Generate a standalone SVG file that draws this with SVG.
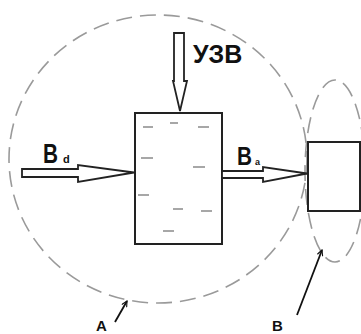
<svg xmlns="http://www.w3.org/2000/svg" width="361" height="334" viewBox="0 0 361 334">
  <style>
    .boundary { fill: none; stroke: #9a9a9a; stroke-width: 1.6; stroke-dasharray: 16 8; }
    .body { fill: #fff; stroke: #222; stroke-width: 2; }
    .flow { fill: #fff; stroke: #222; stroke-width: 1.8; stroke-linejoin: miter; }
    .level { stroke: #8a8a8a; stroke-width: 1.5; }
    .pointer { fill: none; stroke: #111; stroke-width: 1.8; }
    .lbl { font-family: "Liberation Sans", Arial, sans-serif; font-weight: bold; fill: #111; }
  </style>
  <defs>
    <marker id="open-head" viewBox="0 0 10 10" refX="9" refY="5" markerWidth="7" markerHeight="7" orient="auto" markerUnits="userSpaceOnUse">
      <path d="M1,1 L9,5 L1,9" fill="none" stroke="#111" stroke-width="1.6"/>
    </marker>
  </defs>

  <!-- system boundaries -->
  <g id="boundary-A">
    <ellipse class="boundary" cx="158" cy="159" rx="149" ry="144"/>
  </g>
  <g id="boundary-B">
    <ellipse class="boundary" cx="335" cy="171" rx="30" ry="91"/>
  </g>

  <!-- tank with water level marks -->
  <g id="tank">
    <rect class="body" x="135" y="113" width="87" height="131"/>
    <g class="level">
      <line x1="143" y1="127" x2="153" y2="127"/>
      <line x1="170" y1="123" x2="178" y2="123"/>
      <line x1="198" y1="127" x2="209" y2="127"/>
      <line x1="141" y1="158" x2="153" y2="158"/>
      <line x1="193" y1="167" x2="205" y2="167"/>
      <line x1="138" y1="195" x2="149" y2="195"/>
      <line x1="173" y1="209" x2="183" y2="209"/>
      <line x1="201" y1="211" x2="212" y2="211"/>
      <line x1="163" y1="231" x2="174" y2="231"/>
    </g>
  </g>

  <!-- receiving unit -->
  <g id="receiver">
    <rect class="body" x="308" y="142" width="52" height="69"/>
  </g>

  <!-- flows -->
  <g id="connectors">
    <polygon class="flow" points="174,33 184,33 184,81 187,81 180,111 173,81 174,81"/>
    <polygon class="flow" points="22,169 78,169 78,165 134,172.5 78,182 78,177 22,177"/>
    <polygon class="flow" points="222,171 263,171 263,167 307,173.5 263,182 263,178 222,178"/>
    <line class="pointer" x1="115" y1="322" x2="127" y2="301" marker-end="url(#open-head)"/>
    <line class="pointer" x1="297" y1="315" x2="322" y2="250" marker-end="url(#open-head)"/>
  </g>

  <!-- labels -->
  <g id="label-uzv">
    <text class="lbl" x="193" y="63" font-size="25">УЗВ</text>
  </g>
  <g id="label-bd">
    <text class="lbl" x="43" y="163" font-size="28" textLength="15" lengthAdjust="spacingAndGlyphs">B</text>
    <text class="lbl" x="63" y="163" font-size="11">d</text>
  </g>
  <g id="label-ba">
    <text class="lbl" x="237" y="165" font-size="25" textLength="15" lengthAdjust="spacingAndGlyphs">B</text>
    <text class="lbl" x="255" y="165" font-size="9">a</text>
  </g>
  <g id="label-A">
    <text class="lbl" x="96" y="331" font-size="15">A</text>
  </g>
  <g id="label-B">
    <text class="lbl" x="272" y="331" font-size="15">B</text>
  </g>
</svg>
